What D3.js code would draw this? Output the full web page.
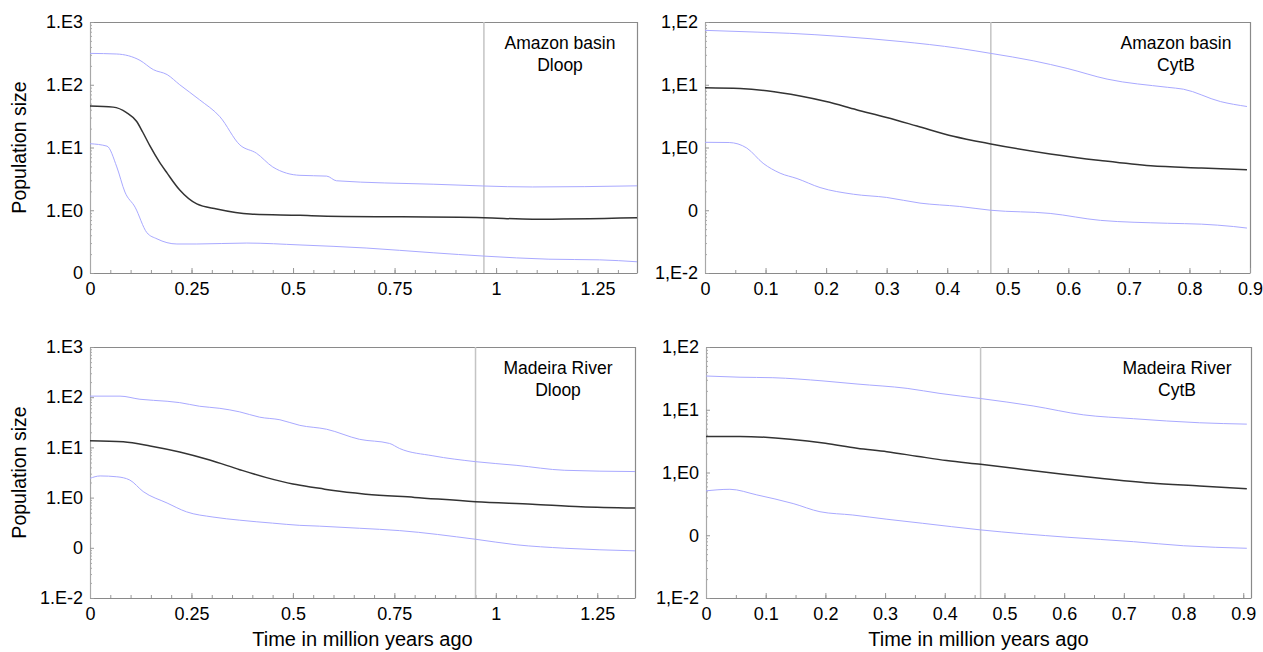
<!DOCTYPE html>
<html>
<head>
<meta charset="utf-8">
<script src="https://cdn.jsdelivr.net/npm/d3@7"></script>
<style>
  body { margin: 0; background: #fff; }
  svg { font-family: "Liberation Sans", Arial, sans-serif; }
</style>
</head>
<body>
<script>
'use strict';

// ---- data (time in million years ago, population size) ----

// Amazon basin, Dloop
const adMedT = [0, 0.057, 0.09, 0.115, 0.13, 0.148, 0.17, 0.19, 0.221, 0.263, 0.312, 0.394, 0.517, 0.566, 0.97, 1.09, 1.347];
const adMed  = [45.7, 44, 36, 26, 17.5, 10.5, 6, 3.9, 2.1, 1.26, 1.05, 0.87, 0.83, 0.81, 0.76, 0.72, 0.76];
const adUpT  = [0, 0.066, 0.123, 0.156, 0.19, 0.221, 0.27, 0.32, 0.369, 0.41, 0.45, 0.484, 0.517, 0.583, 0.607, 0.845, 1.09, 1.347];
const adUp   = [316, 309, 245, 174, 145, 100, 57.5, 30.9, 11, 8.1, 4.9, 3.9, 3.6, 3.5, 2.95, 2.6, 2.35, 2.45];
const adLoT  = [0, 0.042, 0.066, 0.086, 0.111, 0.14, 0.165, 0.214, 0.263, 0.386, 0.517, 0.68, 0.845, 0.97, 1.13, 1.255, 1.347];
const adLo   = [11.5, 10.5, 4.9, 1.95, 1.12, 0.44, 0.35, 0.29, 0.29, 0.30, 0.28, 0.25, 0.21, 0.186, 0.166, 0.162, 0.151];

// Amazon basin, CytB
const acMedT = [0, 0.058, 0.102, 0.157, 0.2, 0.25, 0.3, 0.35, 0.41, 0.472, 0.57, 0.653, 0.736, 0.82, 0.895];
const acMed  = [8.97, 8.7, 8.0, 6.6, 5.4, 4.0, 3.0, 2.2, 1.51, 1.14, 0.79, 0.62, 0.51, 0.47, 0.44];
const acUpT  = [0, 0.086, 0.14, 0.223, 0.322, 0.42, 0.472, 0.543, 0.598, 0.664, 0.764, 0.79, 0.851, 0.895];
const acUp   = [73.6, 69, 66, 59, 49, 38, 31.6, 24, 18.2, 12.3, 9.1, 8.5, 5.4, 4.5];
const acLoT  = [0, 0.04, 0.069, 0.096, 0.124, 0.152, 0.19, 0.245, 0.3, 0.355, 0.42, 0.472, 0.57, 0.653, 0.764, 0.82, 0.873, 0.895];
const acLo   = [1.21, 1.2, 0.98, 0.56, 0.39, 0.32, 0.23, 0.18, 0.16, 0.13, 0.115, 0.1, 0.089, 0.069, 0.062, 0.06, 0.055, 0.052];

// Madeira River, Dloop
const mdMedT = [0, 0.082, 0.148, 0.221, 0.295, 0.369, 0.435, 0.5, 0.566, 0.6, 0.68, 0.8, 0.95, 1.09, 1.21, 1.343];
const mdMed  = [13.6, 12.9, 10.7, 8.1, 5.6, 3.6, 2.5, 1.86, 1.53, 1.38, 1.17, 1.01, 0.83, 0.74, 0.66, 0.62];
const mdUpT  = [0, 0.074, 0.123, 0.19, 0.221, 0.27, 0.32, 0.369, 0.418, 0.468, 0.517, 0.583, 0.664, 0.738, 0.763, 0.845, 0.95, 1.05, 1.17, 1.343];
const mdUp   = [105, 105, 91, 83, 78, 66, 60, 51, 40, 35.5, 27.5, 23, 14.5, 12, 9.5, 6.8, 5.2, 4.4, 3.5, 3.3];
const mdLoT  = [0, 0.025, 0.066, 0.098, 0.131, 0.19, 0.238, 0.303, 0.369, 0.45, 0.517, 0.566, 0.664, 0.763, 0.95, 1.05, 1.17, 1.343];
const mdLo   = [2.42, 2.7, 2.6, 2.24, 1.32, 0.78, 0.52, 0.41, 0.355, 0.31, 0.28, 0.27, 0.245, 0.22, 0.148, 0.115, 0.098, 0.087];

// Madeira River, CytB
const mcMedT = [0, 0.057, 0.141, 0.2, 0.253, 0.303, 0.353, 0.403, 0.46, 0.598, 0.66, 0.744, 0.827, 0.906];
const mcMed  = [3.76, 3.76, 3.39, 2.92, 2.43, 2.14, 1.82, 1.55, 1.35, 0.94, 0.81, 0.68, 0.61, 0.55];
const mcUpT  = [0, 0.057, 0.112, 0.196, 0.253, 0.337, 0.392, 0.46, 0.548, 0.632, 0.716, 0.827, 0.906];
const mcUp   = [34.5, 33, 32.4, 28.8, 25.7, 21.9, 18.2, 15.1, 11.5, 8.3, 7.2, 6.2, 5.9];
const mcLoT  = [0, 0.04, 0.085, 0.146, 0.191, 0.246, 0.303, 0.363, 0.459, 0.605, 0.716, 0.8, 0.906];
const mcLo   = [0.51, 0.54, 0.44, 0.32, 0.237, 0.21, 0.18, 0.155, 0.122, 0.093, 0.079, 0.068, 0.062];

// vertical marker lines
const markers = [0.97, 0.472, 0.95, 0.46];

// tick labels
const dotLabels   = {1000: "1.E3", 100: "1.E2", 10: "1.E1", 1: "1.E0", 0.1: "0", 0.01: "1.E-2"};
const commaLabels = {100: "1,E2", 10: "1,E1", 1: "1,E0", 0.1: "0", 0.01: "1,E-2"};
const dloopXTicks = [0, 0.25, 0.5, 0.75, 1, 1.25];
const cytbXTicks  = [0, 0.1, 0.2, 0.3, 0.4, 0.5, 0.6, 0.7, 0.8, 0.9];

const panelTitles = [["Amazon basin", "Dloop"], ["Amazon basin", "CytB"],
                     ["Madeira River", "Dloop"], ["Madeira River", "CytB"]];

// ---- layout ----
const svg = d3.select('body').append('svg')
  .attr('width', 1263)
  .attr('height', 652);

const zip = (t, v) => t.map((d, i) => ({t: d, v: v[i]}));

const panels = [
  {x0: 90, x1: 637, y0: 22, y1: 273, xMax: 1.347, yDom: [0.1, 1000], labels: dotLabels,
   xTicks: dloopXTicks, minor: 0.05, series: [zip(adUpT, adUp), zip(adLoT, adLo), zip(adMedT, adMed)]},
  {x0: 705, x1: 1250, y0: 22, y1: 273, xMax: 0.9, yDom: [0.01, 100], labels: commaLabels,
   xTicks: cytbXTicks, minor: 0.05, series: [zip(acUpT, acUp), zip(acLoT, acLo), zip(acMedT, acMed)]},
  {x0: 90, x1: 635, y0: 347, y1: 598, xMax: 1.343, yDom: [0.01, 1000], labels: dotLabels,
   xTicks: dloopXTicks, minor: 0.05, series: [zip(mdUpT, mdUp), zip(mdLoT, mdLo), zip(mdMedT, mdMed)]},
  {x0: 706, x1: 1251, y0: 347, y1: 598, xMax: 0.913, yDom: [0.01, 100], labels: commaLabels,
   xTicks: cytbXTicks, minor: 0.05, series: [zip(mcUpT, mcUp), zip(mcLoT, mcLo), zip(mcMedT, mcMed)]}
];

panels.forEach(function(p, i) {
  const x = d3.scaleLinear().domain([0, p.xMax]).range([p.x0, p.x1]);
  const y = d3.scaleLog().domain(p.yDom).range([p.y1, p.y0]);
  const g = svg.append('g');

  // top and right frame
  g.append('path')
    .attr('d', `M${p.x0},${p.y0 + 0.5}H${p.x1 + 0.5}V${p.y1}`)
    .attr('fill', 'none')
    .attr('stroke', '#8a8a8a')
    .attr('stroke-width', 1.2);

  // minor x ticks (inside)
  const minorX = d3.range(0, p.xMax + 1e-9, p.minor);
  g.append('g')
    .attr('transform', `translate(0,${p.y1})`)
    .call(d3.axisBottom(x).tickValues(minorX).tickSize(-3).tickFormat(''))
    .call(s => s.select('.domain').remove())
    .selectAll('line').attr('stroke', '#999');

  // minor y ticks (log 2..9, inside)
  const decades = Object.keys(p.labels).map(Number).filter(v => v >= p.yDom[0] && v <= p.yDom[1]);
  const minorY = [];
  decades.forEach(function(dv) {
    if (dv < p.yDom[1]) d3.range(2, 10).forEach(k => minorY.push(dv * k));
  });
  g.append('g')
    .attr('transform', `translate(${p.x0},0)`)
    .call(d3.axisLeft(y).tickValues(minorY).tickSize(-2).tickFormat(''))
    .call(s => s.select('.domain').remove())
    .selectAll('line').attr('stroke', '#aaa');

  // x axis
  const xAxis = g.append('g')
    .attr('transform', `translate(0,${p.y1})`)
    .call(d3.axisBottom(x).tickValues(p.xTicks).tickSizeInner(-5).tickSizeOuter(0)
      .tickPadding(9).tickFormat(d3.format('')));
  xAxis.select('.domain').attr('stroke', '#8a8a8a').attr('stroke-width', 1.2);
  xAxis.selectAll('line').attr('stroke', '#999');
  xAxis.selectAll('text').attr('fill', '#000').style('font-size', '18px');

  // y axis
  const yAxis = g.append('g')
    .attr('transform', `translate(${p.x0},0)`)
    .call(d3.axisLeft(y).tickValues(decades).tickSizeInner(-4).tickSizeOuter(0)
      .tickPadding(7).tickFormat(d => p.labels[d]));
  yAxis.select('.domain').attr('stroke', '#a8a8a8').attr('stroke-width', 1.2);
  yAxis.selectAll('line').attr('stroke', '#999');
  yAxis.selectAll('text').attr('fill', '#000').style('font-size', '18px');

  // vertical marker
  g.append('line')
    .attr('x1', x(markers[i])).attr('x2', x(markers[i]))
    .attr('y1', p.y0).attr('y2', p.y1)
    .attr('stroke', '#c4c4c4')
    .attr('stroke-width', 1.5);

  // lines: upper, lower (blue), median (black)
  const line = d3.line()
    .x(d => x(d.t))
    .y(d => y(d.v))
    .curve(d3.curveMonotoneX);

  p.series.forEach(function(s, k) {
    g.append('path')
      .datum(s)
      .attr('d', line)
      .attr('fill', 'none')
      .attr('stroke', k < 2 ? '#a9a9ff' : '#333')
      .attr('stroke-width', k < 2 ? 1 : 1.5);
  });

  // panel title
  const cx = (i % 2 === 0) ? p.x1 - 77 : p.x1 - 74;
  g.append('text')
    .attr('x', cx).attr('y', p.y0 + 27)
    .attr('text-anchor', 'middle')
    .style('font-size', '17.5px')
    .text(panelTitles[i][0]);
  g.append('text')
    .attr('x', cx).attr('y', p.y0 + 49)
    .attr('text-anchor', 'middle')
    .style('font-size', '17.5px')
    .text(panelTitles[i][1]);

  // axis titles
  if (i % 2 === 0) {
    svg.append('text')
      .attr('transform', `translate(26,${(p.y0 + p.y1) / 2})rotate(-90)`)
      .attr('text-anchor', 'middle')
      .style('font-size', '19.5px')
      .text('Population size');
  }
  if (i >= 2) {
    svg.append('text')
      .attr('x', (p.x0 + p.x1) / 2)
      .attr('y', 646)
      .attr('text-anchor', 'middle')
      .style('font-size', '20px')
      .text('Time in million years ago');
  }
});
</script>
</body>
</html>
